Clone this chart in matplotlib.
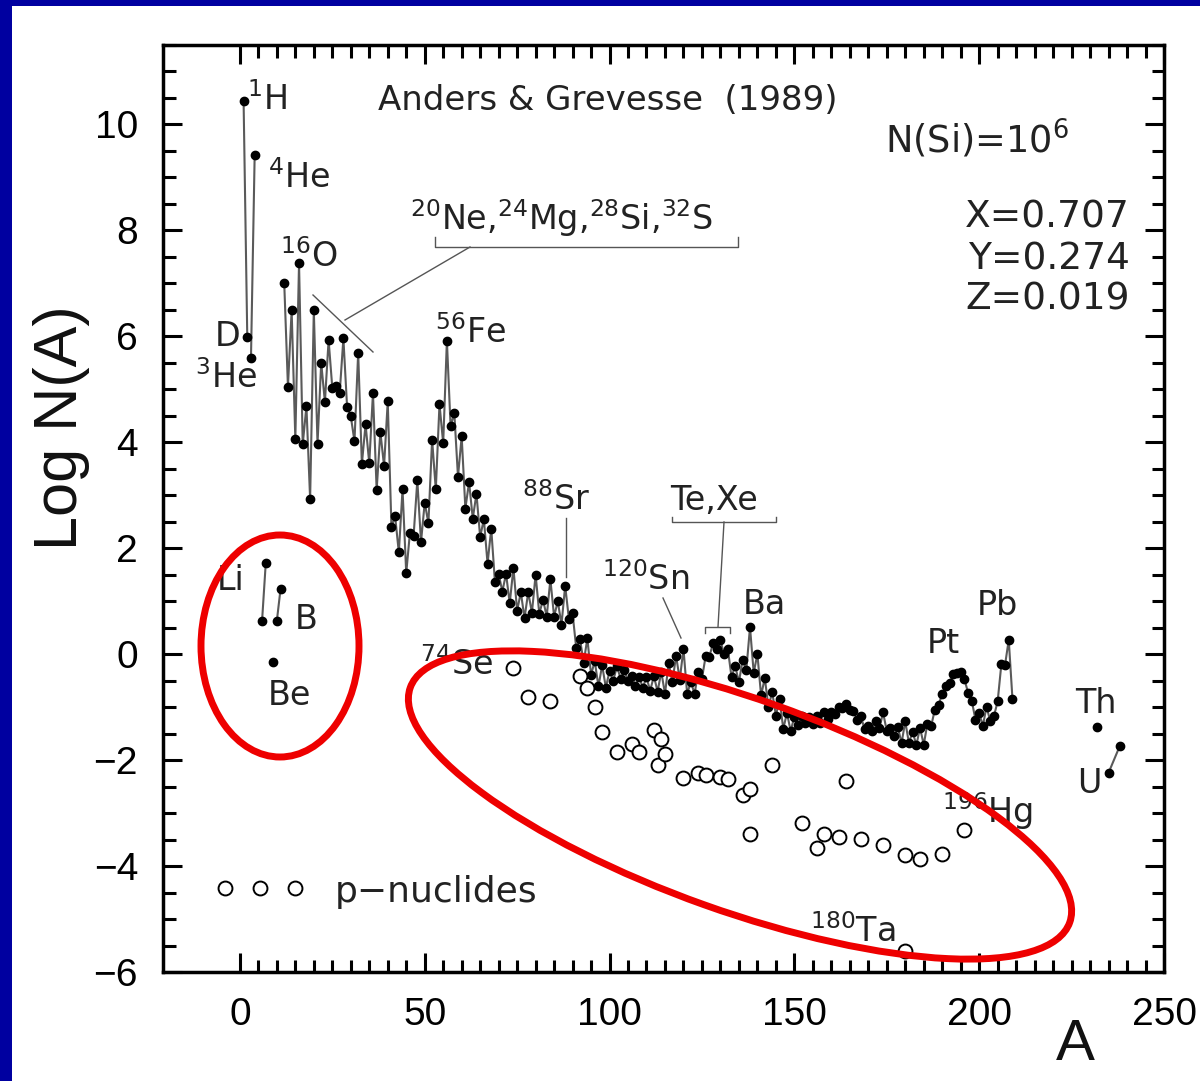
import matplotlib
matplotlib.use("Agg")
import matplotlib.pyplot as plt
from matplotlib.patches import Ellipse, Rectangle
from matplotlib.lines import Line2D
from matplotlib.transforms import IdentityTransform
from matplotlib.ticker import FixedLocator

plt.rcParams['font.family'] = ['Liberation Sans', 'DejaVu Sans']
plt.rcParams['mathtext.fontset'] = 'dejavusans'
plt.rcParams['axes.unicode_minus'] = True

# ---------------- data (Anders & Grevesse 1989, log N, N(Si)=1e6) ----------------
# light nuclides (separate short segments)
light_A = [1, 2, 3, 4, 6, 7, 9, 10, 11]
light_logN = [10.45, 5.98, 5.59, 9.43, 0.63, 1.72, -0.14, 0.63, 1.23]
light_groups = [[0, 1], [2, 3], [4, 5], [6], [7, 8]]

# main chain (non-p nuclides, summed by mass number)
main_A = [12, 13, 14, 15, 16, 17, 18, 19, 20, 21,
          22, 23, 24, 25, 26, 27, 28, 29, 30, 31,
          32, 33, 34, 35, 36, 37, 38, 39, 40, 41,
          42, 43, 44, 45, 46, 47, 48, 49, 50, 51,
          52, 53, 54, 55, 56, 57, 58, 59, 60, 61,
          62, 63, 64, 65, 66, 67, 68, 69, 70, 71,
          72, 73, 74, 75, 76, 77, 78, 79, 80, 81,
          82, 83, 84, 85, 86, 87, 88, 89, 90, 91,
          92, 93, 94, 95, 96, 97, 98, 99, 100, 101,
          102, 103, 104, 105, 106, 107, 108, 109, 110, 111,
          112, 113, 114, 115, 116, 117, 118, 119, 120, 121,
          122, 123, 124, 125, 126, 127, 128, 129, 130, 131,
          132, 133, 134, 135, 136, 137, 138, 139, 140, 141,
          142, 143, 144, 145, 146, 147, 148, 149, 150, 151,
          152, 153, 154, 155, 156, 157, 158, 159, 160, 161,
          162, 163, 164, 165, 166, 167, 168, 169, 170, 171,
          172, 173, 174, 175, 176, 177, 178, 179, 180, 181,
          182, 183, 184, 185, 186, 187, 188, 189, 190, 191,
          192, 193, 194, 195, 196, 197, 198, 199, 200, 201,
          202, 203, 204, 205, 206, 207, 208, 209]
main_logN = [7.00, 5.05, 6.49, 4.06, 7.38, 3.96, 4.68, 2.93, 6.49, 3.97,
             5.50, 4.76, 5.93, 5.03, 5.07, 4.93, 5.96, 4.67, 4.49, 4.02,
             5.69, 3.59, 4.34, 3.60, 4.93, 3.10, 4.20, 3.55, 4.77, 2.40,
             2.60, 1.92, 3.11, 1.53, 2.29, 2.24, 3.28, 2.12, 2.86, 2.47,
             4.05, 3.11, 4.72, 3.98, 5.92, 4.30, 4.56, 3.35, 4.11, 2.75,
             3.25, 2.56, 3.03, 2.21, 2.55, 1.71, 2.37, 1.36, 1.52, 1.18,
             1.52, 0.96, 1.63, 0.82, 1.17, 0.68, 1.17, 0.78, 1.50, 0.76,
             1.03, 0.71, 1.41, 0.71, 1.00, 0.56, 1.29, 0.67, 0.77, 0.11,
             0.29, -0.16, 0.30, -0.39, -0.13, -0.61, -0.21, -0.63, -0.32, -0.50,
             -0.23, -0.46, -0.30, -0.51, -0.42, -0.60, -0.43, -0.63, -0.44, -0.69,
             -0.41, -0.71, -0.33, -0.75, -0.17, -0.53, -0.03, -0.48, 0.10, -0.75,
             -0.52, -0.75, -0.34, -0.46, -0.04, -0.05, 0.21, 0.09, 0.26, 0.00,
             0.10, -0.43, -0.22, -0.53, -0.11, -0.30, 0.51, -0.35, 0.00, -0.78,
             -0.45, -1.00, -0.71, -1.16, -0.85, -1.41, -1.11, -1.45, -1.18, -1.33,
             -1.16, -1.29, -1.18, -1.31, -1.17, -1.29, -1.09, -1.22, -1.09, -1.13,
             -1.00, -1.01, -0.95, -1.05, -1.07, -1.24, -1.17, -1.42, -1.35, -1.45,
             -1.27, -1.40, -1.10, -1.45, -1.39, -1.54, -1.38, -1.68, -1.27, -1.68,
             -1.46, -1.72, -1.39, -1.71, -1.31, -1.36, -1.05, -0.96, -0.75, -0.61,
             -0.54, -0.38, -0.36, -0.34, -0.47, -0.73, -0.88, -1.24, -1.11, -1.35,
             -0.99, -1.27, -1.17, -0.89, -0.19, -0.20, 0.27, -0.84]

# actinides
th_A = [232]
th_logN = [-1.37]
u_A = [235, 238]
u_logN = [-2.24, -1.74]

# p-nuclides (open circles)
p_A = [74, 78, 84, 92, 94, 96, 98, 102, 106, 108,
       112, 113, 114, 115, 120, 124, 126, 130, 132, 136,
       138, 138, 144, 152, 156, 158, 162, 164, 168, 174,
       180, 180, 184, 190, 196]
p_logN = [-0.26, -0.81, -0.88, -0.42, -0.63, -0.99, -1.46, -1.85, -1.70, -1.85,
          -1.43, -2.10, -1.60, -1.89, -2.34, -2.24, -2.28, -2.32, -2.35, -2.66,
          -2.55, -3.40, -2.10, -3.18, -3.65, -3.40, -3.46, -2.40, -3.49, -3.60,
          -5.60, -3.80, -3.87, -3.77, -3.32]

x_ticks = [0, 50, 100, 150, 200, 250]
y_ticks = [-6, -4, -2, 0, 2, 4, 6, 8, 10]

# annotation texts: (text, left px, baseline px)
elem_labels = ['$^{1}$H', '$^{4}$He', '$^{16}$O', 'D', '$^{3}$He',
               '$^{20}$Ne,$^{24}$Mg,$^{28}$Si,$^{32}$S', '$^{56}$Fe', '$^{88}$Sr',
               'Te,Xe', '$^{120}$Sn', 'Ba', 'Pt', 'Pb', 'Th', 'U',
               '$^{196}$Hg', '$^{180}$Ta', '$^{74}$Se', 'Li', 'B', 'Be']
elem_px = [247, 268, 280, 215, 195, 410, 435, 522, 670, 602, 743, 927, 977, 1075, 1077,
           942, 810, 420, 217, 295, 268]
elem_py = [110, 188, 267, 346, 388, 230, 343, 510, 510, 590, 614, 653, 615, 713, 793,
           823, 942, 675, 590, 629, 705]

W, H = 1200, 1081
fig = plt.figure(figsize=(W / 100, H / 100), dpi=100)
fig.patch.set_facecolor('white')

def fx(px):
    return px / W

def fy(py):
    return 1 - py / H

# blue frame
fig.add_artist(Rectangle((0, 0), fx(12), 1, transform=fig.transFigure,
                         facecolor='#0000a0', edgecolor='none', zorder=0))
fig.add_artist(Rectangle((0, fy(6)), 1, 6 / H, transform=fig.transFigure,
                         facecolor='#0000a0', edgecolor='none', zorder=0))

ax = fig.add_axes([fx(163), fy(972), (1164 - 163) / W, (972 - 45) / H])
ax.set_xlim(-20.8, 250)
ax.set_ylim(-6, 11.5)

line_kw = dict(color='#5a5a5a', lw=1.5, zorder=2)
dot_kw = dict(ls='none', marker='o', color='black', ms=6, zorder=3)

for g in light_groups:
    xs = [light_A[i] for i in g]
    ys = [light_logN[i] for i in g]
    ax.plot(xs, ys, **line_kw)
    ax.plot(xs, ys, **dot_kw)

ax.plot(main_A, main_logN, **line_kw)
ax.plot(main_A, main_logN, **dot_kw)
ax.plot(th_A, th_logN, **dot_kw)
ax.plot(u_A, u_logN, **line_kw)
ax.plot(u_A, u_logN, **dot_kw)

ax.plot(p_A, p_logN, ls='none', marker='o', mfc='white', mec='black',
        ms=10, mew=1.4, zorder=4)

# ticks
ax.xaxis.set_major_locator(FixedLocator(x_ticks))
ax.xaxis.set_minor_locator(FixedLocator([v for v in range(5, 250, 5) if v % 50]))
ax.yaxis.set_major_locator(FixedLocator(y_ticks))
ax.yaxis.set_minor_locator(FixedLocator([v / 2 for v in range(-12, 24) if v % 4]))
ax.tick_params(which='both', direction='in', top=True, right=True,
               width=2.2, labelsize=28, pad=18, colors='black')
ax.tick_params(which='major', length=14)
ax.tick_params(which='minor', length=9)
for s in ax.spines.values():
    s.set_linewidth(2.5)

# axis titles
fig.text(fx(62), fy(428), 'Log N(A)', rotation=90, ha='center', va='center',
         fontsize=44, color='#111111')
fig.text(fx(1075), fy(1045), 'A', ha='center', va='center', fontsize=42,
         color='#111111')

inner = dict(family='DejaVu Sans', color='#222222')
for t, px, py in zip(elem_labels, elem_px, elem_py):
    fig.text(fx(px), fy(py), t, ha='left', va='baseline', fontsize=24, **inner)

fig.text(fx(378), fy(110), 'Anders & Grevesse  (1989)', ha='left', va='baseline',
         fontsize=24.5, **inner)
fig.text(fx(885), fy(153), 'N(Si)=10$^{6}$', ha='left', va='baseline',
         fontsize=26.5, **inner)
for t, py in zip(['X=0.707', 'Y=0.274', 'Z=0.019'], [228, 269, 309]):
    fig.text(fx(1130), fy(py), t, ha='right', va='baseline', fontsize=27, **inner)
fig.text(fx(335), fy(902), 'p\u2212nuclides', ha='left', va='baseline',
         fontsize=26, **inner)

# legend circles
for px in [225, 260, 295]:
    fig.add_artist(Line2D([fx(px)], [fy(888)], transform=fig.transFigure,
                          ls='none', marker='o', mfc='white', mec='black',
                          ms=10, mew=1.4))

def pline(xs, ys, lw=1.0, color='#555555'):
    fig.add_artist(Line2D([fx(x) for x in xs], [fy(y) for y in ys],
                          transform=fig.transFigure, lw=lw, color=color))

# Ne/Mg/Si/S bracket & leaders
pline([435, 435, 738, 738], [237, 247, 247, 237])
pline([470, 345], [247, 320])
pline([313, 373], [295, 352])
# Sr leader
pline([566, 566], [518, 577])
# Te,Xe bracket
pline([672, 672, 776, 776], [517, 522, 522, 517])
pline([724, 718], [522, 627])
pline([705, 705, 730, 730], [633, 627, 627, 633])
# Sn leader
pline([663, 681], [598, 638])

# red ellipses (display pixel coordinates)
e1 = Ellipse((280, H - 646), 158, 222, angle=0, transform=IdentityTransform(),
             fill=False, edgecolor='#ee0000', lw=5, zorder=10)
e2 = Ellipse((740, H - 805), 700, 212, angle=-19.6, transform=IdentityTransform(),
             fill=False, edgecolor='#ee0000', lw=5, zorder=10)
fig.add_artist(e1)
fig.add_artist(e2)

fig.savefig('out.png', dpi=100, facecolor='white')
